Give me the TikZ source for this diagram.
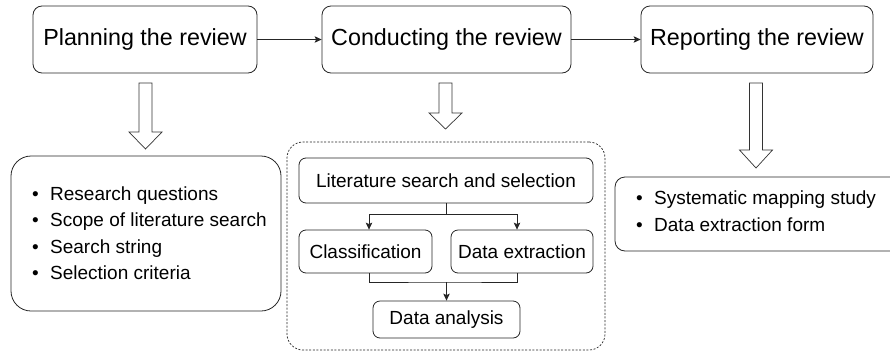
\documentclass[tikz,border=0pt]{standalone}
\usepackage{fontspec}
\setmainfont{Liberation Sans}
\usetikzlibrary{arrows.meta,calc}
\tikzset{
  topbox/.style={draw=black!85, line width=0.8pt, rounded corners=9pt, inner sep=0pt,
    minimum height=67pt, font=\fontsize{23.3}{27}\selectfont},
  innerbox/.style={draw=black!85, line width=0.8pt, rounded corners=7pt, inner sep=0pt,
    font=\fontsize{19}{22}\selectfont},
  listbox/.style={draw=black!85, line width=0.8pt, rounded corners=20pt, inner sep=0pt},
  listtext/.style={anchor=west, align=left, inner sep=0pt, font=\fontsize{19}{26.5}\selectfont},
  groupbox/.style={draw=black!85, line width=0.7pt, dash pattern=on 2pt off 1.6pt, rounded corners=16pt, inner sep=0pt},
  hollow/.style={draw=black!80, fill=white, line width=0.7pt, line join=miter},
  arr/.style={draw=black!85, line width=0.8pt, -{Stealth[length=7pt,width=6.5pt,inset=1.5pt]}},
  conn/.style={draw=black!85, line width=0.8pt}
}
\newcommand\hollowarr[4]{% cx, top, base, tip
  \draw[hollow] ({#1-6.5},#2) -- ({#1+6.5},#2) -- ({#1+6.5},#3) -- ({#1+16.5},#3)
    -- (#1,#4) -- ({#1-16.5},#3) -- ({#1-6.5},#3) -- cycle;}
\newcommand\bul{\makebox[18pt][l]{•}}
\begin{document}
\begin{tikzpicture}[x=1pt,y=-1pt]
\useasboundingbox[fill=white] (0,0) rectangle (890,351);

% top row
\node[topbox, minimum width=224pt] (plan) at (145,39.5) {Planning the review};
\node[topbox, minimum width=249pt] (cond) at (446.5,39.5) {Conducting the review};
\node[topbox, minimum width=232pt] (rep) at (757,39.5) {Reporting the review};
\draw[arr] (plan.east) -- (cond.west);
\draw[arr] (cond.east) -- (rep.west);

% hollow arrows
\hollowarr{145.5}{83}{132}{149}
\hollowarr{445.5}{83}{113}{129}
\hollowarr{756}{83}{150}{168}

% left list
\node[listbox, minimum width=270pt, minimum height=155pt] (lbox) at (146,233.5) {};
\node[listtext] (ltext) at (32,233) {\bul Research questions\\\bul Scope of literature search\\\bul Search string\\\bul Selection criteria};

% middle group
\node[groupbox, minimum width=318pt, minimum height=208pt] (grp) at (446,246) {};
\node[innerbox, minimum width=294pt, minimum height=45pt] (lss) at (446,180.5) {Literature search and selection};
\node[innerbox, minimum width=133pt, minimum height=43pt] (cls) at (365.5,251.5) {Classification};
\node[innerbox, minimum width=142pt, minimum height=43pt] (dex) at (522,251.5) {Data extraction};
\node[innerbox, minimum width=147pt, minimum height=37pt] (dan) at (446.5,319.5) {Data analysis};
\coordinate (split) at (446,214);
\coordinate (merge) at (446.5,282);
\draw[conn] (lss.south) -- (split);
\draw[arr] (split) -| ([xshift=3.5pt]cls.north);
\draw[arr] (split) -| ([xshift=-5pt]dex.north);
\draw[conn] ([xshift=3.5pt]cls.south) |- (merge) -| ([xshift=-5pt]dex.south);
\draw[arr] (merge) -- (dan.north);

% right list
\node[listbox, rounded corners=10pt, minimum width=290pt, minimum height=74pt] (rbox) at (760,214) {};
\node[listtext] (rtext) at (636,211) {\bul Systematic mapping study\\\bul Data extraction form};
\end{tikzpicture}
\end{document}
